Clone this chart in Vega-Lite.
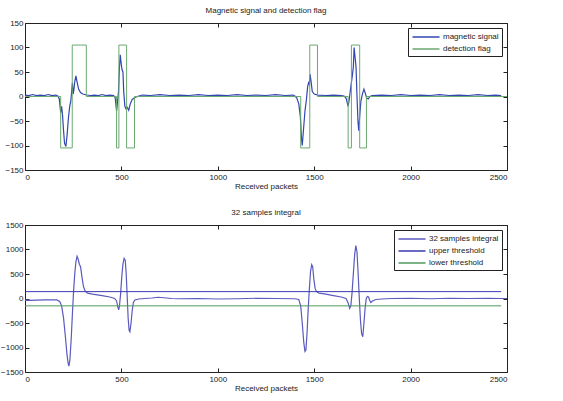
{
  "$schema": "https://vega.github.io/schema/vega-lite/v6.json",
  "background": "white",
  "padding": {"left": 0, "top": 6, "right": 5, "bottom": 2},
  "spacing": 17,
  "config": {
    "font": "Liberation Sans",
    "view": {"stroke": "#222"},
    "title": {"fontSize": 8, "fontWeight": "normal", "color": "#222", "offset": 4},
    "axis": {"grid": false, "domain": false, "tickColor": "#222", "tickSize": -4, "labelFontSize": 8, "labelColor": "#222", "labelPadding": 7, "titleFontSize": 8, "titleFontWeight": "normal", "titleColor": "#222", "titlePadding": 1, "format": "d"},
    "axisY": {"labelPadding": 6},
    "legend": {"orient": "top-right", "offset": 5, "strokeColor": "#222", "fillColor": "white", "padding": 3, "labelFontSize": 8, "labelColor": "#222", "symbolType": "M-2.7,0H2.7", "symbolSize": 100, "symbolStrokeWidth": 1.5, "symbolOffset": 9, "labelOffset": 11, "rowPadding": 2, "title": null}
  },
  "datasets": {
    "mag": [
      {"x": 0, "y": 3}, {"x": 20, "y": 2}, {"x": 40, "y": 4}, {"x": 60, "y": 2}, {"x": 80, "y": 3}, {"x": 100, "y": 2}, {"x": 120, "y": 4}, {"x": 140, "y": 2}, {"x": 160, "y": 3}, {"x": 170, "y": 1},
      {"x": 178, "y": -5}, {"x": 185, "y": -33}, {"x": 190, "y": -20}, {"x": 195, "y": -40}, {"x": 200, "y": -70}, {"x": 205, "y": -95}, {"x": 212, "y": -102}, {"x": 218, "y": -80}, {"x": 225, "y": -45}, {"x": 232, "y": -20}, {"x": 238, "y": -8}, {"x": 242, "y": 10}, {"x": 246, "y": 28}, {"x": 250, "y": 5}, {"x": 254, "y": 15}, {"x": 258, "y": 30}, {"x": 264, "y": 42}, {"x": 270, "y": 30}, {"x": 278, "y": 15}, {"x": 288, "y": 8}, {"x": 300, "y": 5}, {"x": 320, "y": 3}, {"x": 340, "y": 2}, {"x": 360, "y": 3}, {"x": 380, "y": 2}, {"x": 400, "y": 4}, {"x": 420, "y": 2}, {"x": 440, "y": 3}, {"x": 460, "y": 2},
      {"x": 468, "y": -3}, {"x": 475, "y": -30}, {"x": 480, "y": -10}, {"x": 485, "y": 10}, {"x": 490, "y": 60}, {"x": 494, "y": 85}, {"x": 498, "y": 70}, {"x": 503, "y": 55}, {"x": 508, "y": 50}, {"x": 512, "y": 10}, {"x": 518, "y": -20}, {"x": 524, "y": -25}, {"x": 530, "y": -22}, {"x": 538, "y": -28}, {"x": 546, "y": -15}, {"x": 556, "y": -6}, {"x": 570, "y": -2}, {"x": 590, "y": 1},
      {"x": 610, "y": 3}, {"x": 650, "y": 2}, {"x": 700, "y": 4}, {"x": 750, "y": 2}, {"x": 800, "y": 3}, {"x": 850, "y": 2}, {"x": 900, "y": 4}, {"x": 950, "y": 2}, {"x": 1000, "y": 3}, {"x": 1050, "y": 2}, {"x": 1100, "y": 4}, {"x": 1150, "y": 2}, {"x": 1200, "y": 3}, {"x": 1250, "y": 2}, {"x": 1300, "y": 4}, {"x": 1350, "y": 2}, {"x": 1390, "y": 3},
      {"x": 1400, "y": 1}, {"x": 1410, "y": -3}, {"x": 1420, "y": -15}, {"x": 1428, "y": -40}, {"x": 1434, "y": -85}, {"x": 1438, "y": -100}, {"x": 1444, "y": -70}, {"x": 1452, "y": -30}, {"x": 1460, "y": -5}, {"x": 1466, "y": 20}, {"x": 1471, "y": 28}, {"x": 1475, "y": 25}, {"x": 1479, "y": 45}, {"x": 1484, "y": 30}, {"x": 1490, "y": 10}, {"x": 1500, "y": 5}, {"x": 1520, "y": 3}, {"x": 1560, "y": 2}, {"x": 1600, "y": 3}, {"x": 1640, "y": 2}, {"x": 1655, "y": 1},
      {"x": 1665, "y": -3}, {"x": 1676, "y": -20}, {"x": 1682, "y": -5}, {"x": 1690, "y": 20}, {"x": 1697, "y": 40}, {"x": 1703, "y": 60}, {"x": 1707, "y": 100}, {"x": 1712, "y": 80}, {"x": 1717, "y": 60}, {"x": 1722, "y": 0}, {"x": 1727, "y": -50}, {"x": 1731, "y": -70}, {"x": 1736, "y": -40}, {"x": 1742, "y": -10}, {"x": 1750, "y": 5}, {"x": 1758, "y": 15}, {"x": 1764, "y": 8}, {"x": 1772, "y": -3}, {"x": 1780, "y": -5}, {"x": 1790, "y": 0}, {"x": 1800, "y": 2},
      {"x": 1850, "y": 3}, {"x": 1900, "y": 2}, {"x": 1950, "y": 4}, {"x": 2000, "y": 2}, {"x": 2050, "y": 3}, {"x": 2100, "y": 2}, {"x": 2150, "y": 4}, {"x": 2200, "y": 2}, {"x": 2250, "y": 3}, {"x": 2300, "y": 2}, {"x": 2350, "y": 4}, {"x": 2400, "y": 2}, {"x": 2440, "y": 3}, {"x": 2470, "y": 2}
    ],
    "flag": [
      {"x": 0, "y": 0}, {"x": 185, "y": -105}, {"x": 245, "y": 105}, {"x": 318, "y": 0},
      {"x": 475, "y": -105}, {"x": 487, "y": 105}, {"x": 527, "y": -105}, {"x": 568, "y": 0},
      {"x": 1430, "y": -105}, {"x": 1477, "y": 105}, {"x": 1517, "y": 0},
      {"x": 1676, "y": -105}, {"x": 1693, "y": 105}, {"x": 1736, "y": -105}, {"x": 1771, "y": 0},
      {"x": 2500, "y": 0}
    ],
    "integ": [
      {"x": 0, "y": -40}, {"x": 10, "y": -35}, {"x": 30, "y": -38}, {"x": 60, "y": -32}, {"x": 100, "y": -30}, {"x": 140, "y": -28}, {"x": 165, "y": -30}, {"x": 180, "y": -60}, {"x": 190, "y": -150}, {"x": 200, "y": -400}, {"x": 210, "y": -800}, {"x": 218, "y": -1150}, {"x": 224, "y": -1330}, {"x": 228, "y": -1380}, {"x": 233, "y": -1250}, {"x": 240, "y": -800}, {"x": 246, "y": -300}, {"x": 252, "y": 150}, {"x": 258, "y": 500}, {"x": 264, "y": 750}, {"x": 270, "y": 860}, {"x": 276, "y": 800}, {"x": 282, "y": 700}, {"x": 288, "y": 650}, {"x": 295, "y": 450}, {"x": 303, "y": 250}, {"x": 312, "y": 150}, {"x": 325, "y": 110}, {"x": 350, "y": 90}, {"x": 400, "y": 60}, {"x": 440, "y": 30}, {"x": 465, "y": 0},
      {"x": 475, "y": -50}, {"x": 482, "y": -180}, {"x": 486, "y": -230}, {"x": 490, "y": -150}, {"x": 496, "y": 100}, {"x": 502, "y": 450}, {"x": 508, "y": 700}, {"x": 514, "y": 820}, {"x": 520, "y": 780}, {"x": 525, "y": 500}, {"x": 530, "y": 50}, {"x": 535, "y": -400}, {"x": 540, "y": -650}, {"x": 544, "y": -680}, {"x": 550, "y": -500}, {"x": 556, "y": -250}, {"x": 562, "y": -80}, {"x": 570, "y": -30}, {"x": 590, "y": -10}, {"x": 620, "y": 0}, {"x": 660, "y": 10}, {"x": 690, "y": 25}, {"x": 720, "y": 15}, {"x": 760, "y": 0}, {"x": 800, "y": -5}, {"x": 900, "y": 0}, {"x": 1000, "y": -10}, {"x": 1100, "y": -5}, {"x": 1200, "y": 5}, {"x": 1300, "y": 0}, {"x": 1400, "y": -5},
      {"x": 1420, "y": -20}, {"x": 1430, "y": -150}, {"x": 1438, "y": -500}, {"x": 1446, "y": -900}, {"x": 1452, "y": -1080}, {"x": 1457, "y": -1050}, {"x": 1463, "y": -700}, {"x": 1469, "y": -200}, {"x": 1475, "y": 200}, {"x": 1481, "y": 550}, {"x": 1487, "y": 690}, {"x": 1492, "y": 650}, {"x": 1498, "y": 400}, {"x": 1505, "y": 200}, {"x": 1512, "y": 140}, {"x": 1525, "y": 110}, {"x": 1560, "y": 90}, {"x": 1600, "y": 60}, {"x": 1640, "y": 30}, {"x": 1665, "y": 0},
      {"x": 1675, "y": -80}, {"x": 1684, "y": -200}, {"x": 1690, "y": -150}, {"x": 1696, "y": 100}, {"x": 1702, "y": 450}, {"x": 1710, "y": 900}, {"x": 1716, "y": 1080}, {"x": 1722, "y": 950}, {"x": 1728, "y": 500}, {"x": 1734, "y": 0}, {"x": 1740, "y": -450}, {"x": 1746, "y": -720}, {"x": 1752, "y": -780}, {"x": 1758, "y": -500}, {"x": 1764, "y": -200}, {"x": 1770, "y": 0}, {"x": 1776, "y": 40}, {"x": 1782, "y": 30}, {"x": 1788, "y": -40}, {"x": 1794, "y": -80}, {"x": 1802, "y": -50}, {"x": 1820, "y": -20}, {"x": 1850, "y": -10}, {"x": 1900, "y": 0}, {"x": 2000, "y": 5}, {"x": 2100, "y": -5}, {"x": 2200, "y": 5}, {"x": 2300, "y": 0}, {"x": 2400, "y": 5}, {"x": 2470, "y": 0}, {"x": 2500, "y": 0}
    ],
    "thr": [
      {"x": 0, "y": 140, "s": "upper threshold"}, {"x": 2470, "y": 140, "s": "upper threshold"},
      {"x": 0, "y": -150, "s": "lower threshold"}, {"x": 2470, "y": -150, "s": "lower threshold"}
    ]
  },
  "resolve": {"scale": {"color": "independent"}},
  "vconcat": [
    {
      "title": "Magnetic signal and detection flag",
      "width": 482,
      "height": 147,
      "resolve": {"axis": {"x": "independent", "y": "independent"}},
      "layer": [
        {
          "data": {"name": "mag"},
          "mark": {"type": "line", "strokeWidth": 1.2},
          "encoding": {
            "x": {"field": "x", "type": "quantitative", "scale": {"domain": [0, 2500], "nice": false}, "axis": {"title": "Received packets", "values": [0, 500, 1000, 1500, 2000, 2500]}},
            "y": {"field": "y", "type": "quantitative", "scale": {"domain": [-150, 150], "nice": false}, "axis": {"title": null, "values": [-150, -100, -50, 0, 50, 100, 150]}},
            "color": {"datum": "magnetic signal", "scale": {"domain": ["magnetic signal", "detection flag"], "range": ["#3246b0", "#6aa870"]}}
          }
        },
        {
          "data": {"name": "flag"},
          "mark": {"type": "line", "interpolate": "step-after", "strokeWidth": 1},
          "encoding": {
            "x": {"field": "x", "type": "quantitative", "scale": {"domain": [0, 2500], "nice": false}, "axis": {"orient": "top", "labels": false, "title": null, "values": [0, 500, 1000, 1500, 2000, 2500]}},
            "y": {"field": "y", "type": "quantitative", "scale": {"domain": [-150, 150], "nice": false}, "axis": {"orient": "right", "labels": false, "title": null, "values": [-150, -100, -50, 0, 50, 100, 150]}},
            "color": {"datum": "detection flag"}
          }
        }
      ]
    },
    {
      "title": "32 samples integral",
      "width": 482,
      "height": 147,
      "resolve": {"axis": {"x": "independent", "y": "independent"}},
      "layer": [
        {
          "data": {"name": "integ"},
          "mark": {"type": "line", "strokeWidth": 1.2},
          "encoding": {
            "x": {"field": "x", "type": "quantitative", "scale": {"domain": [0, 2500], "nice": false}, "axis": {"title": "Received packets", "values": [0, 500, 1000, 1500, 2000, 2500]}},
            "y": {"field": "y", "type": "quantitative", "scale": {"domain": [-1500, 1500], "nice": false}, "axis": {"title": null, "values": [-1500, -1000, -500, 0, 500, 1000, 1500]}},
            "color": {"datum": "32 samples integral", "scale": {"domain": ["32 samples integral", "upper threshold", "lower threshold"], "range": ["#5a5abf", "#3a3ab0", "#4f9a5e"]}}
          }
        },
        {
          "data": {"name": "thr"},
          "mark": {"type": "line", "strokeWidth": 1},
          "encoding": {
            "x": {"field": "x", "type": "quantitative", "scale": {"domain": [0, 2500], "nice": false}, "axis": {"orient": "top", "labels": false, "title": null, "values": [0, 500, 1000, 1500, 2000, 2500]}},
            "y": {"field": "y", "type": "quantitative", "scale": {"domain": [-1500, 1500], "nice": false}, "axis": {"orient": "right", "labels": false, "title": null, "values": [-1500, -1000, -500, 0, 500, 1000, 1500]}},
            "color": {"field": "s", "type": "nominal"}
          }
        }
      ]
    }
  ]
}
